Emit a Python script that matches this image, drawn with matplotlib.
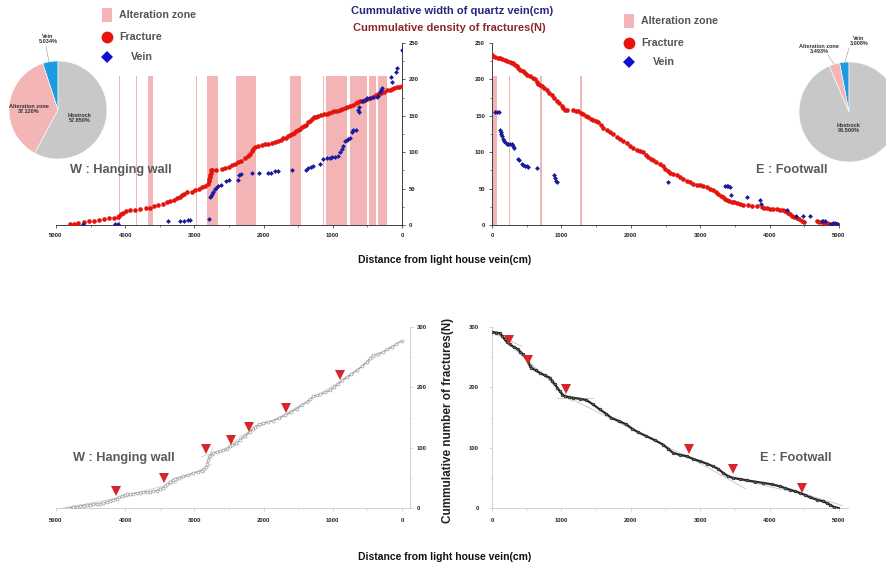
import matplotlib
matplotlib.use('Agg')
import matplotlib.pyplot as plt
from matplotlib.ticker import MultipleLocator
from matplotlib.patches import Rectangle

plt.rcParams['font.family'] = ['Liberation Sans', 'DejaVu Sans']
plt.rcParams['font.weight'] = 'bold'

# ---------------- data ----------------
# alteration zones (start, end) in cm
alt_west = [(4080, 4094), (3826, 3840), (3594, 3675), (2960, 2973), (2664, 2823),
            (2110, 2399), (1460, 1618), (1341, 1348), (1130, 1143), (800, 1103),
            (511, 751), (380, 477), (212, 352), (84, 91)]
alt_east = [(15, 70), (244, 256), (401, 407), (687, 720), (950, 956),
            (1263, 1302), (3150, 3160), (4245, 4256)]
band_top = 205

# cumulative fractures (distance cm, count) - hanging wall
frac_west = [(4800, 1), (4740, 2), (4680, 3), (4600, 4), (4530, 5), (4450, 6), (4380, 7),
             (4300, 8), (4230, 9), (4160, 10), (4110, 11), (4085, 13), (4060, 15), (4030, 17),
             (3990, 19), (3930, 20), (3860, 21), (3780, 22), (3700, 23), (3640, 24), (3590, 26),
             (3530, 27), (3460, 29), (3400, 31), (3350, 33), (3300, 35), (3250, 37), (3210, 39),
             (3180, 41), (3150, 43), (3100, 45), (3040, 46), (2990, 48), (2940, 50), (2890, 52),
             (2840, 54), (2810, 57), (2795, 60), (2785, 63), (2778, 66), (2772, 69), (2766, 72),
             (2760, 75), (2740, 76), (2690, 76), (2595, 77), (2558, 78), (2500, 80), (2461, 82),
             (2420, 84), (2365, 86), (2320, 88), (2269, 92), (2230, 95), (2200, 98), (2172, 101),
             (2150, 104), (2124, 107), (2076, 109), (2030, 110), (1980, 111), (1932, 111),
             (1880, 112), (1835, 114), (1790, 116), (1750, 117), (1715, 119), (1680, 120),
             (1650, 122), (1620, 123), (1594, 125), (1560, 127), (1530, 129), (1500, 130),
             (1470, 132), (1450, 134), (1420, 136), (1390, 138), (1360, 141), (1330, 143),
             (1305, 146), (1270, 148), (1240, 149), (1209, 150), (1170, 151), (1130, 152),
             (1090, 153), (1050, 154), (1016, 155), (980, 156), (940, 157), (900, 158),
             (860, 159), (823, 161), (790, 162), (750, 164), (710, 165), (670, 167), (631, 169),
             (600, 170), (570, 171), (535, 172), (500, 173), (460, 175), (420, 176), (380, 178),
             (342, 180), (300, 182), (260, 183), (220, 185), (180, 186), (149, 187), (110, 188),
             (75, 189), (40, 190), (5, 191)]

# cumulative quartz-vein width (distance cm, width cm) - hanging wall
vein_west = [(4615, 1), (4147, 2), (4099, 2), (3386, 5), (3208, 5), (3150, 6), (3088, 7),
             (3064, 7), (2784, 8), (2775, 38), (2765, 40), (2750, 42), (2726, 45), (2700, 49),
             (2688, 51), (2654, 53), (2620, 55), (2548, 61), (2500, 62), (2375, 62), (2355, 69),
             (2327, 70), (2172, 71), (2066, 71), (1932, 72), (1893, 72), (1835, 74), (1787, 74),
             (1594, 75), (1387, 76), (1354, 78), (1315, 80), (1281, 81), (1185, 84), (1137, 91),
             (1089, 92), (1040, 92), (1007, 93), (968, 93), (920, 95), (896, 100), (872, 105),
             (848, 108), (823, 116), (800, 117), (776, 118), (752, 119), (727, 128), (703, 130),
             (670, 131), (631, 158), (621, 155), (617, 162), (583, 170), (535, 172), (510, 174),
             (462, 175), (414, 176), (366, 176), (342, 177), (318, 183), (308, 186), (294, 188),
             (159, 203), (149, 196), (91, 210), (67, 216), (0, 240)]

# footwall fractures
frac_east = [(0, 233), (20, 232), (43, 231), (80, 230), (115, 229.6), (150, 228), (187, 227),
             (220, 225.5), (259, 224), (285, 223), (307, 222), (330, 220), (355, 218), (380, 215),
             (403, 212.5), (440, 211), (475, 209), (510, 206.5), (548, 204), (585, 202), (620, 200),
             (645, 197), (667, 194), (690, 192.5), (716, 190.6), (750, 188), (788, 185),
             (825, 181.5), (860, 178), (895, 174.5), (932, 171), (970, 167), (1004, 163),
             (1030, 160.5), (1052, 158.5), (1085, 157.6), (1172, 157.6), (1210, 157), (1244, 156),
             (1280, 154), (1316, 152), (1350, 150), (1388, 148), (1425, 146), (1460, 143.8),
             (1500, 142.5), (1532, 141.5), (1570, 137.5), (1604, 133.7), (1650, 130.5),
             (1700, 127.7), (1750, 124.5), (1796, 121), (1845, 118.5), (1892, 116), (1940, 112.5),
             (1988, 109), (2035, 105.5), (2085, 102.5), (2130, 101), (2181, 100), (2215, 96.5),
             (2253, 93), (2290, 91), (2325, 88.7), (2370, 86.5), (2421, 84), (2460, 80.5),
             (2493, 77), (2530, 74), (2565, 71), (2613, 70), (2660, 68), (2709, 66), (2755, 63.5),
             (2805, 61), (2855, 59), (2901, 56.7), (2950, 55.5), (2997, 54.4), (3045, 53),
             (3093, 52), (3140, 49.5), (3189, 47.5), (3225, 45), (3261, 43), (3300, 40.5),
             (3333, 38), (3360, 35.5), (3381, 33.7), (3420, 33), (3453, 32), (3490, 31),
             (3525, 30.5), (3575, 29), (3621, 28), (3693, 26.8), (3750, 26), (3813, 25.5),
             (3885, 24.5), (3920, 24), (3957, 23), (4005, 22.5), (4053, 22), (4100, 21.5),
             (4150, 21), (4190, 20), (4222, 19), (4250, 17.5), (4270, 16), (4295, 14.5),
             (4318, 13), (4355, 11.5), (4390, 10), (4425, 8), (4462, 6), (4496, 4), (4678, 5),
             (4715, 4.5), (4750, 4), (4790, 3), (4822, 2.5), (4860, 2), (4894, 1.6), (4930, 1),
             (4966, 0.7), (4990, 0.5)]

vein_east = [(43, 155), (77, 155), (106, 155), (115, 131), (125, 128), (134, 125.5), (144, 122),
             (163, 118.6), (173, 116), (192, 114), (211, 111.7), (235, 110.8), (259, 110.8),
             (283, 110.8), (307, 109), (322, 106), (370, 91), (394, 89.7), (427, 84), (451, 82.8),
             (475, 81.4), (499, 80.5), (523, 79.6), (653, 78), (898, 68), (908, 65), (922, 61),
             (932, 59.4), (2540, 59), (3357, 54), (3381, 54), (3405, 53.4), (3429, 52),
             (3443, 41.5), (3669, 38), (3861, 34.6), (3875, 29), (4255, 21), (4380, 12),
             (4476, 12), (4582, 11.7), (4750, 5), (4774, 5.5), (4797, 6), (4870, 1.6),
             (4894, 1.6), (4918, 2.5), (4942, 3), (4966, 1.6)]

# cumulative number of fractures (lower panels)
cum_west = [(4822, 0), (4750, 1), (4700, 2), (4653, 3), (4600, 4), (4557, 5), (4510, 5.5),
            (4461, 6), (4410, 6.5), (4364, 7), (4320, 8), (4268, 9.5), (4220, 11), (4172, 13),
            (4123, 15.5), (4085, 18), (4051, 20), (4010, 21.5), (3979, 22.5), (3930, 23),
            (3883, 24), (3830, 25), (3786, 25.5), (3740, 26), (3690, 26.5), (3640, 27),
            (3594, 28), (3545, 29), (3497, 31), (3460, 33), (3425, 36), (3390, 39.5), (3353, 43),
            (3315, 46), (3280, 48.6), (3220, 50.5), (3160, 52.5), (3090, 55), (3016, 58),
            (2955, 60), (2895, 62), (2860, 65), (2832, 68), (2815, 73), (2799, 79), (2785, 84),
            (2775, 87), (2750, 89.5), (2726, 91), (2680, 93), (2630, 94.5), (2580, 96),
            (2534, 97), (2486, 102), (2461, 104), (2400, 107), (2341, 112), (2270, 119),
            (2197, 126), (2160, 131), (2124, 135), (2060, 138.5), (2004, 141), (1930, 143),
            (1859, 145), (1775, 149), (1691, 153.6), (1600, 159), (1522, 164.6), (1450, 170),
            (1378, 175.7), (1330, 180), (1281, 185), (1230, 187), (1185, 188.4), (1110, 191.5),
            (1040, 195), (980, 200), (920, 206), (860, 211.5), (800, 217), (730, 222), (655, 228),
            (580, 235), (511, 242), (460, 248), (414, 253), (340, 256), (270, 258.6), (210, 263),
            (149, 267), (80, 272), (5, 277)]

cum_east = [(0, 291.7), (62, 290.6), (111, 289.5), (149, 285), (183, 279.5), (216, 275),
            (255, 271), (313, 267), (375, 263), (409, 258.5), (447, 254.6), (486, 249),
            (519, 243.5), (543, 236), (567, 232.5), (630, 228), (688, 224), (760, 219.7),
            (832, 216), (870, 210), (904, 205), (942, 199), (976, 193.7), (1014, 188),
            (1048, 185.4), (1111, 183.8), (1168, 182.6), (1264, 181), (1361, 178.8),
            (1457, 171.6), (1553, 163.3), (1640, 156.6), (1721, 149.4), (1832, 144),
            (1938, 138.4), (2024, 131), (2106, 125.6), (2226, 119), (2346, 112.4), (2466, 105),
            (2539, 98), (2611, 91.3), (2707, 88), (2803, 85.8), (2899, 81.4), (2995, 77.5),
            (3092, 73.6), (3188, 69), (3260, 64.8), (3332, 58), (3404, 52.6), (3476, 49.8),
            (3572, 48), (3668, 46), (3788, 43.7), (3909, 41.5), (4029, 39.3), (4149, 36),
            (4221, 33), (4293, 30.4), (4366, 27.7), (4438, 25), (4510, 21.6), (4582, 17.7),
            (4678, 13.8), (4774, 11), (4822, 8.3), (4870, 5.5), (4928, 1.7), (4990, 0)]

# fitted segment lines (x0, y0, x1, y1)
fit_west = [(4900, 0, 3950, 19), (4300, 12, 3250, 42), (3600, 26, 2750, 72),
            (2860, 58, 2740, 100), (2900, 85, 2350, 106), (2600, 95, 2050, 140),
            (2350, 118, 1500, 166), (1850, 145, 700, 222), (1050, 198, 150, 268)]
fit_east = [(-60, 294, 430, 268), (150, 282, 620, 232), (450, 251, 1150, 177),
            (930, 182, 1460, 182), (1000, 189, 2950, 77), (2750, 90, 3650, 32),
            (3350, 52, 4600, 20), (4200, 34, 5050, 4)]

# inflection points (triangles)
tri_west = [(4138, 29), (3439, 50), (2832, 97), (2471, 113), (2216, 135), (1676, 166), (896, 220)]
tri_east = [(245, 279), (524, 246), (1072, 197), (2842, 97), (3467, 64), (4471, 33)]

# pie data
pie_labels = ['Vein', 'Alteration zone', 'Hostrock']
pie_west = [5.034, 37.120, 57.850]
pie_east = [3.008, 3.493, 93.500]

# ---------------- style ----------------
PINK = '#f2b4b4'
RED = '#e3140d'
BLUE = '#1a1aa0'
PIE_COLORS = ['#1b9be0', '#f3b5b5', '#c8c8c8']
TXT = '#555555'

W, H = 886, 568
fig = plt.figure(figsize=(W / 100, H / 100), dpi=100)
fig.patch.set_facecolor('white')


def fbox(l, t, r, b):
    return [l / W, 1 - b / H, (r - l) / W, (b - t) / H]


def style(ax, side, spine_color, xmaj, ymaj, xlab_pad):
    ax.patch.set_alpha(0)
    other = 'left' if side == 'right' else 'right'
    ax.spines[other].set_visible(False)
    ax.spines['top'].set_visible(False)
    for s in [side, 'bottom']:
        ax.spines[s].set_color(spine_color)
        ax.spines[s].set_linewidth(0.6)
    if side == 'right':
        ax.yaxis.tick_right()
    ax.xaxis.set_major_locator(MultipleLocator(xmaj))
    ax.xaxis.set_minor_locator(MultipleLocator(xmaj / 2))
    ax.yaxis.set_major_locator(MultipleLocator(ymaj))
    ax.yaxis.set_minor_locator(MultipleLocator(ymaj / 2))
    ax.tick_params(which='major', length=2.5, width=0.5, labelsize=4.2, color=spine_color,
                   labelcolor='#222222', pad=2.5)
    ax.tick_params(which='minor', length=1.5, width=0.4, color=spine_color)
    ax.tick_params(axis='x', which='major', pad=xlab_pad)


# ---- top-left : hanging wall ----
ax1 = fig.add_axes(fbox(56, 43, 402, 225))
ax1.set_xlim(5000, 0)
ax1.set_ylim(0, 250)
for a, b in alt_west:
    ax1.bar(a, band_top, width=b - a, align='edge', color=PINK, lw=0, zorder=1)
x, y = zip(*frac_west)
ax1.scatter(x, y, s=11, c=RED, lw=0, zorder=3)
x, y = zip(*vein_west)
ax1.scatter(x, y, s=6, c=BLUE, marker='D', lw=0, zorder=4)
style(ax1, 'right', '#222222', 1000, 50, 3.5)

# ---- top-right : footwall ----
ax2 = fig.add_axes(fbox(492, 43, 839, 225))
ax2.set_xlim(0, 5000)
ax2.set_ylim(0, 250)
for a, b in alt_east:
    ax2.bar(a, band_top, width=b - a, align='edge', color=PINK, lw=0, zorder=1)
x, y = zip(*frac_east)
ax2.scatter(x, y, s=11, c=RED, lw=0, zorder=3)
x, y = zip(*vein_east)
ax2.scatter(x, y, s=6, c=BLUE, marker='D', lw=0, zorder=4)
style(ax2, 'left', '#222222', 1000, 50, 3.5)

# ---- bottom-left ----
ax3 = fig.add_axes(fbox(56, 327, 410, 508))
ax3.set_xlim(5000, -116)
ax3.set_ylim(0, 300)
for x0, y0, x1, y1 in fit_west:
    ax3.plot([x0, x1], [y0, y1], color='#cfcfcf', lw=0.6, zorder=2)
x, y = zip(*cum_west)
ax3.plot(x, y, '-', color='#a6a6a6', lw=1.0, zorder=3)
ax3.plot(x, y, 'o', ms=2.1, mfc='white', mec='#9c9c9c', mew=0.5, zorder=4)
x, y = zip(*tri_west)
ax3.plot(x, y, 'v', ms=7.5, color='#d8252b', mew=0, zorder=5)
style(ax3, 'right', '#c8c8c8', 1000, 100, 4.5)

# ---- bottom-right ----
ax4 = fig.add_axes(fbox(492, 327, 848, 508))
ax4.set_xlim(0, 5130)
ax4.set_ylim(0, 300)
for x0, y0, x1, y1 in fit_east:
    ax4.plot([x0, x1], [y0, y1], color='#c4c4c4', lw=0.6, zorder=2)
x, y = zip(*cum_east)
ax4.plot(x, y, '-', color='#2a2a2a', lw=1.6, zorder=3)
ax4.plot(x, y, 'o', ms=2.0, mfc='#6a6a6a', mec='#111111', mew=0.4, zorder=4)
x, y = zip(*tri_east)
ax4.plot(x, y, 'v', ms=7.5, color='#d8252b', mew=0, zorder=5)
style(ax4, 'left', '#c8c8c8', 1000, 100, 4.5)
ax4.tick_params(axis='y', which='major', pad=7)

# ---- pies ----
for box, vals in [((9, 61, 107, 159), pie_west), ((799, 62, 899, 162), pie_east)]:
    axp = fig.add_axes(fbox(*box))
    axp.pie(vals, colors=PIE_COLORS, startangle=90, counterclock=True, radius=1,
            wedgeprops=dict(edgecolor='white', linewidth=0.4))
    axp.set_xlim(-1, 1)
    axp.set_ylim(-1, 1)
    axp.set_aspect('auto')
    axp.axis('off')

# ---- overlay for text and legends ----
ov = fig.add_axes([0, 0, 1, 1])
ov.set_xlim(0, W)
ov.set_ylim(H, 0)
ov.axis('off')

ov.text(452, 11, 'Cummulative width of quartz vein(cm)', color='#26267e', fontsize=8,
        fontweight='bold', ha='center', va='center')
ov.text(449, 28, 'Cummulative density of fractures(N)', color='#8a2a2a', fontsize=8,
        fontweight='bold', ha='center', va='center')
for yy in (260, 557):
    ov.text(445, yy, 'Distance from light house vein(cm)', color='#111111', fontsize=7.5,
            fontweight='bold', ha='center', va='center')
ov.text(448, 420, 'Cummulative number of fractures(N)', color='#222222', fontsize=8.5,
        fontweight='bold', ha='center', va='center', rotation=90)

for (xx, yy, s) in [(70, 170, 'W : Hanging wall'), (756, 170, 'E : Footwall'),
                    (73, 458, 'W : Hanging wall'), (760, 458, 'E : Footwall')]:
    ov.text(xx, yy, s, color='#5a5a5a', fontsize=9.2, fontweight='bold', ha='left', va='center')

# legends
for (lx, ly0) in [(107, 15), (629, 21)]:
    ov.add_patch(Rectangle((lx - 5, ly0 - 7), 10, 14, color=PINK, lw=0))
    ly1 = ly0 + 22
    ly2 = ly0 + 42 if lx < 300 else ly0 + 41
    ov.plot([lx], [ly1], 'o', ms=8.5, color='#e8140c', mew=0)
    ov.plot([lx], [ly2], 'D', ms=6, color='#1010d0', mew=0)
    ov.text(lx + 12, ly0, 'Alteration zone', color=TXT, fontsize=7.7, fontweight='bold', va='center')
    ov.text(lx + 12, ly1, 'Fracture', color=TXT, fontsize=7.7, fontweight='bold', va='center')
    ov.text(lx + 24, ly2, 'Vein', color=TXT, fontsize=7.7, fontweight='bold', va='center')

# pie labels
pie_txt = dict(fontsize=4.0, fontweight='bold', color='#333333', ha='center', va='center',
               linespacing=1.0)
ov.text(48, 39, 'Vein\n5.034%', **pie_txt)
ov.plot([46, 49], [46, 62], color='#999999', lw=0.4)
ov.text(29, 109, 'Alteration zone\n37.120%', **pie_txt)
ov.text(80, 118, 'Hostrock\n57.850%', **pie_txt)
ov.text(859, 41, 'Vein\n3.008%', **pie_txt)
ov.plot([849, 845], [48, 62], color='#999999', lw=0.4)
ov.text(819, 49, 'Alteration zone\n3.493%', **pie_txt)
ov.plot([828, 834], [55, 64], color='#999999', lw=0.4)
ov.text(849, 128, 'Hostrock\n93.500%', **pie_txt)

fig.savefig('out.png', dpi=100, facecolor='white')
